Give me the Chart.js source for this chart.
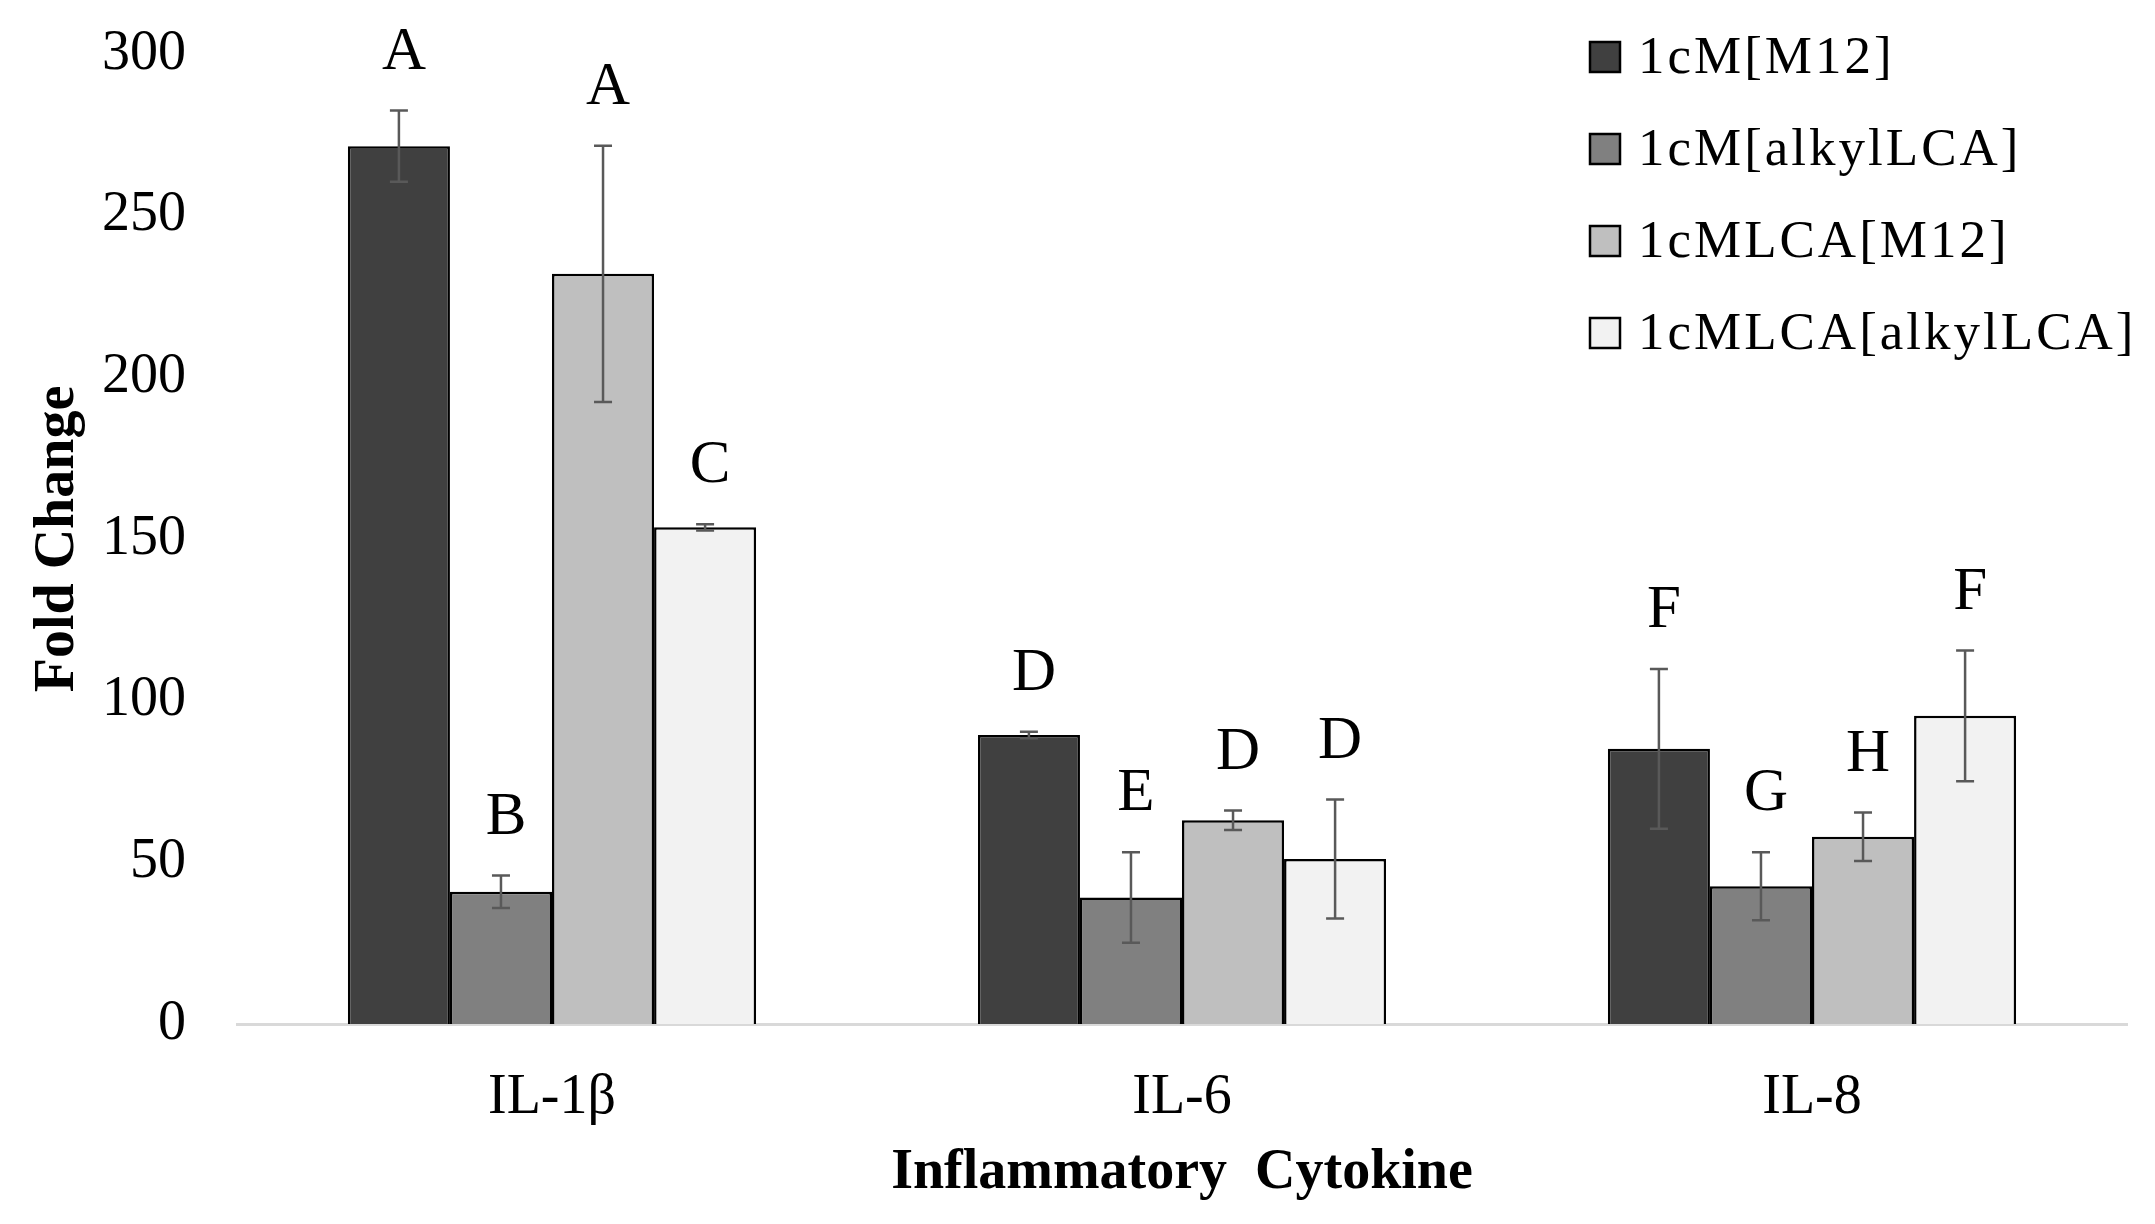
<!DOCTYPE html>
<html>
<head>
<meta charset="utf-8">
<script src="https://cdn.jsdelivr.net/npm/chart.js@4/dist/chart.umd.min.js"></script>
<style>
  html, body { margin: 0; padding: 0; background: #fff; }
  canvas { display: block; }
</style>
</head>
<body>
<canvas id="chart" width="2155" height="1224"></canvas>
<script>
// Categories and series
const categories = ['IL-1β', 'IL-6', 'IL-8'];
const seriesNames = ['1cM[M12]', '1cM[alkylLCA]', '1cMLCA[M12]', '1cMLCA[alkylLCA]'];
const seriesColors = ['#404040', '#808080', '#BFBFBF', '#F2F2F2'];

const m12Values = [271.5, 89.4, 85.1];
const alkylValues = [40.9, 39.1, 42.6];
const lcaM12Values = [232.0, 63.0, 57.9];
const lcaAlkylValues = [153.6, 51.0, 95.3];

const m12Errors = [11.0, 1.0, 24.7];
const alkylErrors = [5.0, 14.0, 10.5];
const lcaM12Errors = [39.6, 3.0, 7.5];
const lcaAlkylErrors = [1.0, 18.4, 20.2];

// significance letters above each bar
const m12Letters = ['A', 'D', 'F'];
const alkylLetters = ['B', 'E', 'G'];
const lcaM12Letters = ['A', 'D', 'H'];
const lcaAlkylLetters = ['C', 'D', 'F'];

const yTicks = [0, 50, 100, 150, 200, 250, 300];

const allValues = [m12Values, alkylValues, lcaM12Values, lcaAlkylValues];
const allErrors = [m12Errors, alkylErrors, lcaM12Errors, lcaAlkylErrors];
const allLetters = [m12Letters, alkylLetters, lcaM12Letters, lcaAlkylLetters];

const serif = '"Liberation Serif", "Times New Roman", serif';

// Error bars + letters drawn from the data through the scales
const errorBarPlugin = {
    id: 'errorBars',
    afterDatasetsDraw(chart) {
        const ctx = chart.ctx;
        const y = chart.scales.y;
        chart.data.datasets.forEach((ds, di) => {
            const meta = chart.getDatasetMeta(di);
            meta.data.forEach((bar, i) => {
                const v = ds.data[i];
                const e = ds.errors[i];
                const x = bar.x;
                const yHi = y.getPixelForValue(v + e);
                const yLo = y.getPixelForValue(v - e);
                ctx.save();
                ctx.strokeStyle = '#595959';
                ctx.lineWidth = 2.5;
                ctx.beginPath();
                ctx.moveTo(x, yHi); ctx.lineTo(x, yLo);
                ctx.moveTo(x - 9, yHi); ctx.lineTo(x + 9, yHi);
                ctx.moveTo(x - 9, yLo); ctx.lineTo(x + 9, yLo);
                ctx.stroke();

                ctx.fillStyle = '#000';
                ctx.font = '61px ' + serif;
                ctx.textAlign = 'center';
                ctx.textBaseline = 'alphabetic';
                ctx.fillText(ds.letters[i], x + 5, yHi - 42);
                ctx.restore();
            });
        });
    }
};

// Legend drawn in the top right corner of the plot
const legendPlugin = {
    id: 'cornerLegend',
    afterDraw(chart) {
        const ctx = chart.ctx;
        const x0 = 1590;
        const yStart = 57;
        const rowGap = 92;
        ctx.save();
        chart.data.datasets.forEach((ds, i) => {
            const cy = yStart + i * rowGap;
            ctx.fillStyle = ds.backgroundColor;
            ctx.fillRect(x0, cy - 15, 30, 30);
            ctx.strokeStyle = '#000';
            ctx.lineWidth = 2.5;
            ctx.strokeRect(x0, cy - 15, 30, 30);
            ctx.fillStyle = '#000';
            ctx.font = '53px ' + serif;
            ctx.letterSpacing = '3px';
            ctx.textAlign = 'left';
            ctx.textBaseline = 'middle';
            ctx.fillText(ds.label, x0 + 48, cy + 2);
        });
        ctx.restore();
    }
};

const datasets = seriesNames.map((name, i) => ({
    label: name,
    data: allValues[i],
    errors: allErrors[i],
    letters: allLetters[i],
    backgroundColor: seriesColors[i],
    borderColor: '#000000',
    borderWidth: 2.5,
    borderSkipped: 'bottom',
    barPercentage: 1.0,
    categoryPercentage: 0.648,
}));

new Chart(document.getElementById('chart'), {
    type: 'bar',
    data: { labels: categories, datasets: datasets },
    plugins: [errorBarPlugin, legendPlugin],
    options: {
        responsive: false,
        devicePixelRatio: 1,
        animation: false,
        layout: { padding: { top: 54, right: 28, bottom: 0, left: 0 } },
        plugins: {
            legend: { display: false },
            tooltip: { enabled: false },
        },
        scales: {
            x: {
                grid: { display: false, drawTicks: false },
                border: { display: true, color: '#D9D9D9', width: 3 },
                ticks: { color: '#000', font: { family: serif, size: 56 }, padding: 41 },
                title: {
                    display: true,
                    text: 'Inflammatory  Cytokine',
                    color: '#000',
                    font: { family: serif, size: 56, weight: 'bold' },
                    padding: { top: 4, bottom: 17 },
                },
                afterFit(scale) {
                    scale.height = 200;
                    scale.paddingLeft = 0;
                    scale.paddingRight = 0;
                },
            },
            y: {
                min: 0,
                max: 300,
                grid: { display: false, drawTicks: false },
                border: { display: false },
                afterBuildTicks(scale) { scale.ticks = yTicks.map(v => ({ value: v })); },
                ticks: { color: '#000', font: { family: serif, size: 56 }, padding: 51 },
                title: {
                    display: true,
                    text: 'Fold Change',
                    color: '#000',
                    font: { family: serif, size: 56, weight: 'bold' },
                    padding: { top: 25, bottom: 0 },
                },
                afterFit(scale) {
                    scale.width = 237;
                    scale.paddingTop = 0;
                    scale.paddingBottom = 0;
                },
            },
        },
    },
});
</script>
</body>
</html>
